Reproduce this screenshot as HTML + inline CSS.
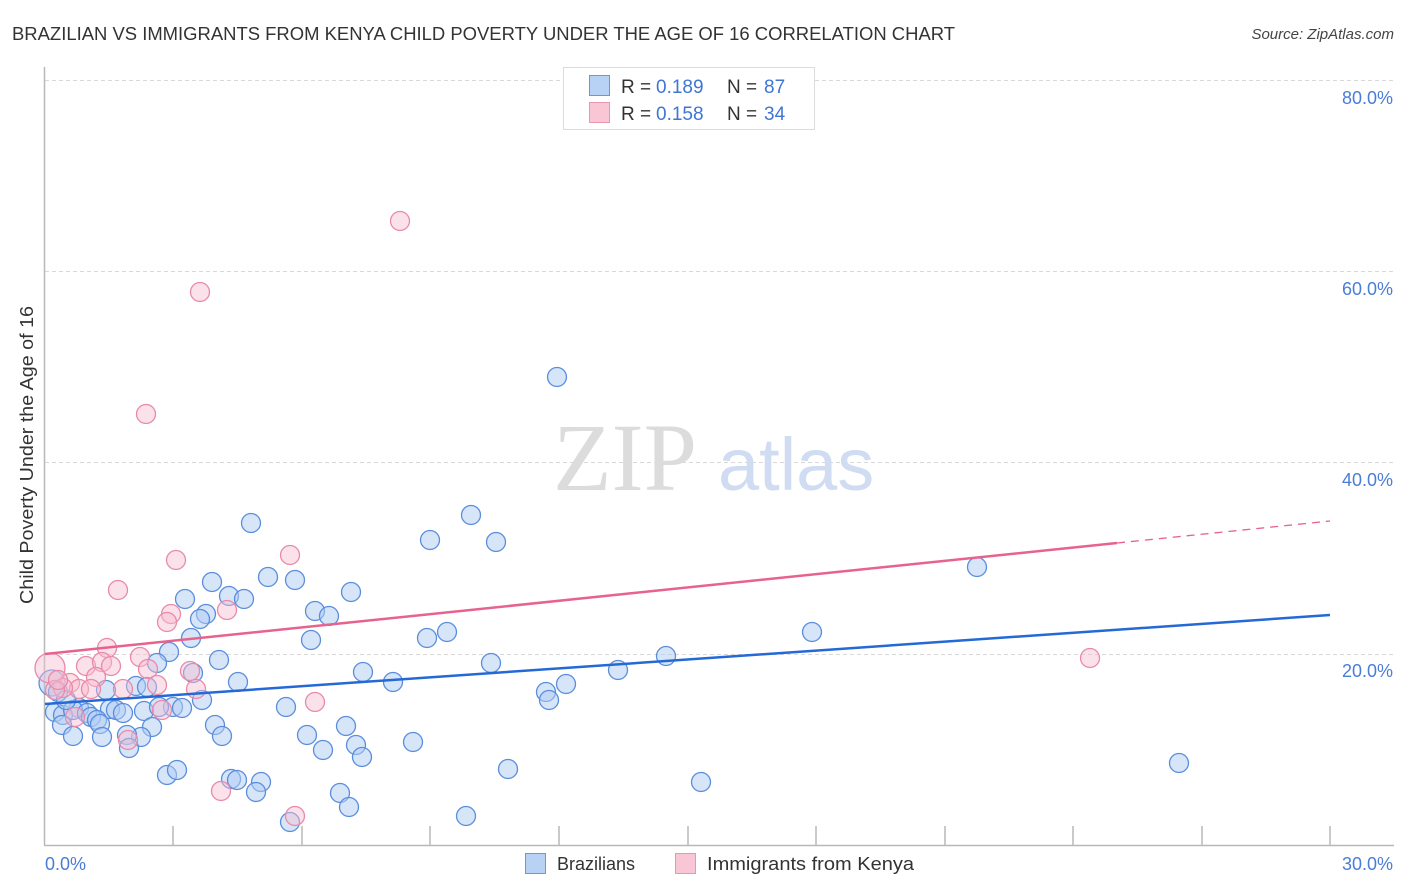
<!DOCTYPE html>
<html>
<head>
<meta charset="utf-8">
<style>
html,body{margin:0;padding:0;background:#fff;}
svg{display:block;font-family:"Liberation Sans",Arial,sans-serif;}
</style>
</head>
<body>
<svg width="1406" height="892" viewBox="0 0 1406 892" xmlns="http://www.w3.org/2000/svg">
<rect width="1406" height="892" fill="#fff"/>
<text x="12" y="40" font-size="18" fill="#333" textLength="943" lengthAdjust="spacingAndGlyphs">BRAZILIAN VS IMMIGRANTS FROM KENYA CHILD POVERTY UNDER THE AGE OF 16 CORRELATION CHART</text>
<text x="1394" y="39" font-size="15" fill="#444" font-style="italic" text-anchor="end">Source: ZipAtlas.com</text>

<g stroke="#d8d8d8" stroke-width="1" stroke-dasharray="4,3">
<line x1="45" y1="80.5" x2="1394" y2="80.5"/>
<line x1="45" y1="271.5" x2="1394" y2="271.5"/>
<line x1="45" y1="462.5" x2="1394" y2="462.5"/>
<line x1="45" y1="654.5" x2="1394" y2="654.5"/>
</g>

<text x="553" y="490" font-family="Liberation Serif, serif" font-size="96" fill="#dcdcdc">ZIP</text>
<text x="718" y="490" font-size="74" fill="#cfdcf1">atlas</text>

<g stroke="#b8b8b8" stroke-width="1.5">
<line x1="44.5" y1="67" x2="44.5" y2="845"/>
<line x1="44" y1="845.5" x2="1394" y2="845.5"/>
<line x1="173" y1="826" x2="173" y2="845"/>
<line x1="302" y1="826" x2="302" y2="845"/>
<line x1="430" y1="826" x2="430" y2="845"/>
<line x1="559" y1="826" x2="559" y2="845"/>
<line x1="688" y1="826" x2="688" y2="845"/>
<line x1="816" y1="826" x2="816" y2="845"/>
<line x1="945" y1="826" x2="945" y2="845"/>
<line x1="1073" y1="826" x2="1073" y2="845"/>
<line x1="1202" y1="826" x2="1202" y2="845"/>
<line x1="1330" y1="826" x2="1330" y2="845"/>
</g>

<g font-size="18" fill="#4a7dd6">
<text x="1393" y="104" text-anchor="end">80.0%</text>
<text x="1393" y="295" text-anchor="end">60.0%</text>
<text x="1393" y="486" text-anchor="end">40.0%</text>
<text x="1393" y="677" text-anchor="end">20.0%</text>
<text x="45" y="870">0.0%</text>
<text x="1393" y="870" text-anchor="end">30.0%</text>
</g>
<text transform="translate(33,455) rotate(-90)" font-size="18" fill="#333" text-anchor="middle" textLength="298" lengthAdjust="spacingAndGlyphs">Child Poverty Under the Age of 16</text>

<g fill="#b0ccf3" fill-opacity="0.5" stroke="#5a8edc" stroke-width="1.3">
<circle cx="557" cy="377" r="9.5"/>
<circle cx="251" cy="523" r="9.5"/>
<circle cx="471" cy="515" r="9.5"/>
<circle cx="430" cy="540" r="9.5"/>
<circle cx="496" cy="542" r="9.5"/>
<circle cx="268" cy="577" r="9.5"/>
<circle cx="295" cy="580" r="9.5"/>
<circle cx="212" cy="582" r="9.5"/>
<circle cx="351" cy="592" r="9.5"/>
<circle cx="185" cy="599" r="9.5"/>
<circle cx="229" cy="596" r="9.5"/>
<circle cx="244" cy="599" r="9.5"/>
<circle cx="206" cy="614" r="9.5"/>
<circle cx="200" cy="619" r="9.5"/>
<circle cx="315" cy="611" r="9.5"/>
<circle cx="329" cy="616" r="9.5"/>
<circle cx="191" cy="638" r="9.5"/>
<circle cx="311" cy="640" r="9.5"/>
<circle cx="427" cy="638" r="9.5"/>
<circle cx="447" cy="632" r="9.5"/>
<circle cx="812" cy="632" r="9.5"/>
<circle cx="977" cy="567" r="9.5"/>
<circle cx="169" cy="652" r="9.5"/>
<circle cx="157" cy="663" r="9.5"/>
<circle cx="219" cy="660" r="9.5"/>
<circle cx="491" cy="663" r="9.5"/>
<circle cx="618" cy="670" r="9.5"/>
<circle cx="666" cy="656" r="9.5"/>
<circle cx="363" cy="672" r="9.5"/>
<circle cx="193" cy="673" r="9.5"/>
<circle cx="238" cy="682" r="9.5"/>
<circle cx="393" cy="682" r="9.5"/>
<circle cx="136" cy="686" r="9.5"/>
<circle cx="147" cy="687" r="9.5"/>
<circle cx="106" cy="690" r="9.5"/>
<circle cx="546" cy="692" r="9.5"/>
<circle cx="549" cy="700" r="9.5"/>
<circle cx="566" cy="684" r="9.5"/>
<circle cx="202" cy="700" r="9.5"/>
<circle cx="286" cy="707" r="9.5"/>
<circle cx="173" cy="707" r="9.5"/>
<circle cx="182" cy="708" r="9.5"/>
<circle cx="144" cy="711" r="9.5"/>
<circle cx="159" cy="707" r="9.5"/>
<circle cx="110" cy="709" r="9.5"/>
<circle cx="116" cy="710" r="9.5"/>
<circle cx="123" cy="713" r="9.5"/>
<circle cx="79" cy="708" r="9.5"/>
<circle cx="55" cy="712" r="9.5"/>
<circle cx="63" cy="715" r="9.5"/>
<circle cx="73" cy="710" r="9.5"/>
<circle cx="87" cy="713" r="9.5"/>
<circle cx="91" cy="717" r="9.5"/>
<circle cx="97" cy="720" r="9.5"/>
<circle cx="100" cy="724" r="9.5"/>
<circle cx="62" cy="725" r="9.5"/>
<circle cx="152" cy="727" r="9.5"/>
<circle cx="215" cy="725" r="9.5"/>
<circle cx="346" cy="726" r="9.5"/>
<circle cx="222" cy="736" r="9.5"/>
<circle cx="307" cy="735" r="9.5"/>
<circle cx="73" cy="736" r="9.5"/>
<circle cx="102" cy="737" r="9.5"/>
<circle cx="141" cy="737" r="9.5"/>
<circle cx="127" cy="735" r="9.5"/>
<circle cx="129" cy="748" r="9.5"/>
<circle cx="323" cy="750" r="9.5"/>
<circle cx="356" cy="745" r="9.5"/>
<circle cx="413" cy="742" r="9.5"/>
<circle cx="362" cy="757" r="9.5"/>
<circle cx="167" cy="775" r="9.5"/>
<circle cx="177" cy="770" r="9.5"/>
<circle cx="231" cy="779" r="9.5"/>
<circle cx="237" cy="780" r="9.5"/>
<circle cx="261" cy="782" r="9.5"/>
<circle cx="256" cy="792" r="9.5"/>
<circle cx="340" cy="793" r="9.5"/>
<circle cx="349" cy="807" r="9.5"/>
<circle cx="290" cy="822" r="9.5"/>
<circle cx="466" cy="816" r="9.5"/>
<circle cx="508" cy="769" r="9.5"/>
<circle cx="701" cy="782" r="9.5"/>
<circle cx="1179" cy="763" r="9.5"/>
<circle cx="52" cy="683" r="13"/>
<circle cx="58" cy="692" r="9.5"/>
<circle cx="66" cy="700" r="9.5"/>
</g>

<g fill="#f7bdd0" fill-opacity="0.45" stroke="#e98aa8" stroke-width="1.3">
<circle cx="400" cy="221" r="9.5"/>
<circle cx="200" cy="292" r="9.5"/>
<circle cx="146" cy="414" r="9.5"/>
<circle cx="176" cy="560" r="9.5"/>
<circle cx="290" cy="555" r="9.5"/>
<circle cx="118" cy="590" r="9.5"/>
<circle cx="171" cy="614" r="9.5"/>
<circle cx="167" cy="622" r="9.5"/>
<circle cx="227" cy="610" r="9.5"/>
<circle cx="107" cy="648" r="9.5"/>
<circle cx="86" cy="666" r="9.5"/>
<circle cx="102" cy="662" r="9.5"/>
<circle cx="111" cy="666" r="9.5"/>
<circle cx="96" cy="677" r="9.5"/>
<circle cx="140" cy="657" r="9.5"/>
<circle cx="148" cy="669" r="9.5"/>
<circle cx="157" cy="685" r="9.5"/>
<circle cx="70" cy="683" r="9.5"/>
<circle cx="79" cy="689" r="9.5"/>
<circle cx="91" cy="689" r="9.5"/>
<circle cx="123" cy="689" r="9.5"/>
<circle cx="63" cy="688" r="9.5"/>
<circle cx="50" cy="668" r="15"/>
<circle cx="190" cy="671" r="9.5"/>
<circle cx="196" cy="689" r="9.5"/>
<circle cx="162" cy="710" r="9.5"/>
<circle cx="128" cy="740" r="9.5"/>
<circle cx="315" cy="702" r="9.5"/>
<circle cx="221" cy="791" r="9.5"/>
<circle cx="295" cy="816" r="9.5"/>
<circle cx="1090" cy="658" r="9.5"/>
<circle cx="75" cy="717" r="9.5"/>
<circle cx="55" cy="690" r="9.5"/>
<circle cx="58" cy="680" r="9.5"/>
</g>

<line x1="45" y1="704" x2="1330" y2="615" stroke="#2469d6" stroke-width="2.5"/>
<line x1="45" y1="654" x2="1117" y2="543" stroke="#e8628e" stroke-width="2.5"/>
<line x1="1117" y1="543" x2="1330" y2="521" stroke="#e8628e" stroke-width="1.3" stroke-dasharray="8,6"/>

<rect x="563.5" y="67.5" width="251" height="62" fill="#fff" stroke="#dcdcdc" stroke-width="1"/>
<rect x="589.5" y="75.5" width="20" height="20" fill="#b8d2f5" stroke="#6a98dc" stroke-width="1"/>
<rect x="589.5" y="102.5" width="20" height="20" fill="#f9c6d5" stroke="#e996b0" stroke-width="1"/>
<g font-size="19">
<text x="621" y="93" fill="#333">R =</text>
<text x="656" y="93" fill="#3f76d4">0.189</text>
<text x="727" y="93" fill="#333">N =</text>
<text x="764" y="93" fill="#3f76d4">87</text>
<text x="621" y="120" fill="#333">R =</text>
<text x="656" y="120" fill="#3f76d4">0.158</text>
<text x="727" y="120" fill="#333">N =</text>
<text x="764" y="120" fill="#3f76d4">34</text>
</g>

<rect x="525.5" y="853.5" width="20" height="20" fill="#b8d2f5" stroke="#6a98dc" stroke-width="1"/>
<text x="557" y="870" font-size="18" fill="#333">Brazilians</text>
<rect x="675.5" y="853.5" width="20" height="20" fill="#f9c6d5" stroke="#e996b0" stroke-width="1"/>
<text x="707" y="870" font-size="18" fill="#333" textLength="207" lengthAdjust="spacingAndGlyphs">Immigrants from Kenya</text>
</svg>
</body>
</html>
